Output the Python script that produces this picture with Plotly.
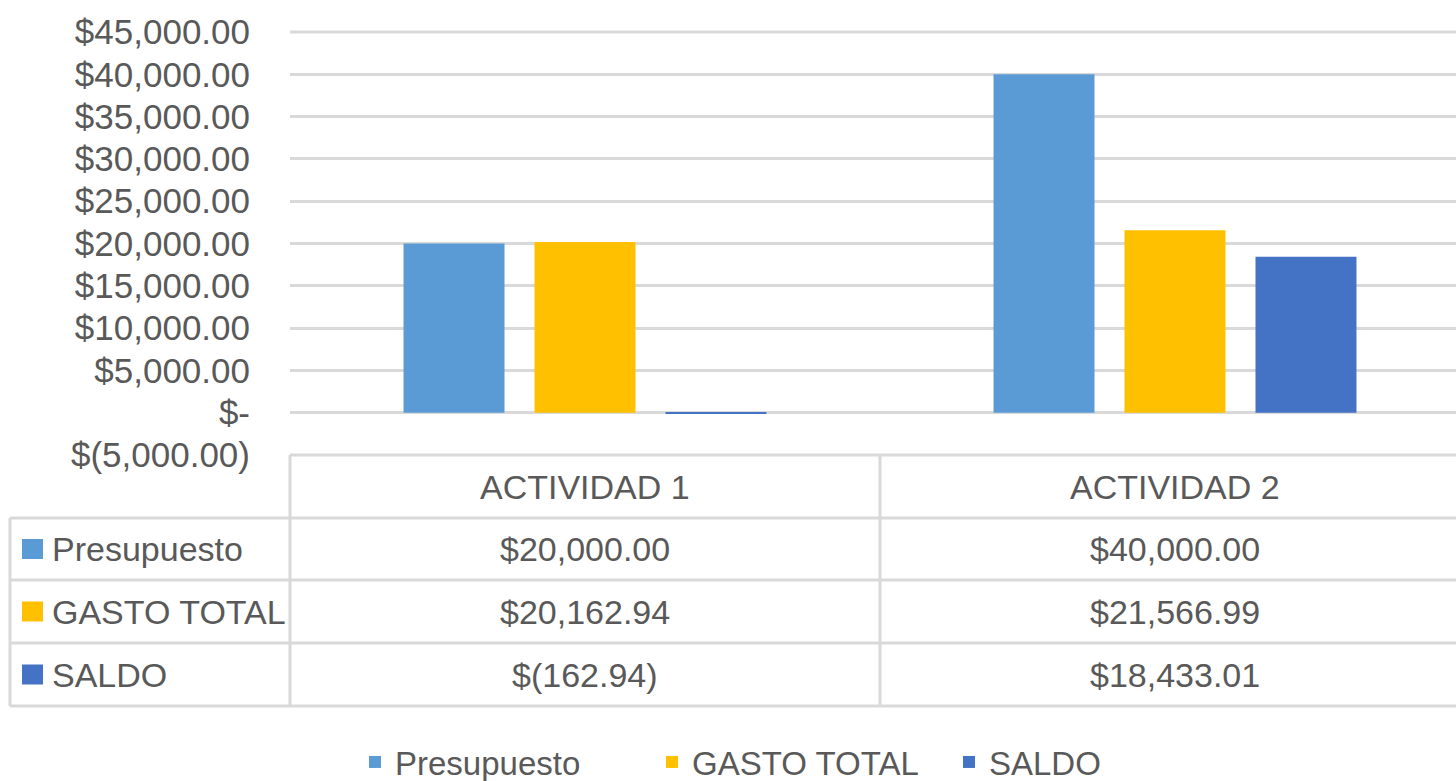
import plotly.graph_objects as go

# ---- data ----
categories = ["ACTIVIDAD 1", "ACTIVIDAD 2"]
series_names = ["Presupuesto", "GASTO TOTAL", "SALDO"]
presupuesto = [20000.00, 40000.00]
gasto_total = [20162.94, 21566.99]
saldo = [-162.94, 18433.01]
colors = ["#5B9BD5", "#FFC000", "#4472C4"]
y_tickvals = [-5000, 0, 5000, 10000, 15000, 20000, 25000, 30000, 35000, 40000, 45000]


def fmt_money(v):
    if v == 0:
        return "$-"
    if v < 0:
        return "$({:,.2f})".format(-v)
    return "${:,.2f}".format(v)


series_values = [presupuesto, gasto_total, saldo]

W, H = 1456, 781
L, R, T, B = 290, 1456, 32, 455  # plot area in pixels
FONT = "Liberation Sans"
TXT = "#595959"
GRID = "#d9d9d9"
GW = 3


def px_x(px):
    return (px - L) / (R - L)


def px_y(py):
    return (B - py) / (B - T)


fig = go.Figure()
for name, vals, col in zip(series_names, series_values, colors):
    fig.add_trace(go.Bar(x=categories, y=vals, name=name, marker_color=col,
                         marker_line_width=0))

fig.update_layout(
    width=W, height=H,
    margin=dict(l=L, r=W - R, t=T, b=H - B, pad=0, autoexpand=False),
    paper_bgcolor="white", plot_bgcolor="white",
    barmode="group", bargap=0.334, bargroupgap=0.229,
    font=dict(family=FONT, size=34, color=TXT),
    showlegend=True,
    legend=dict(orientation="h", x=px_x(355), xanchor="left",
                y=px_y(762), yanchor="middle",
                font=dict(family=FONT, size=33, color=TXT),
                itemwidth=30, tracegroupgap=0, entrywidth=252),
)
fig.update_xaxes(showticklabels=False, showgrid=False, zeroline=False,
                 showline=False, automargin=False,
                 range=[-0.5, 1.5 - (1470 - R) / 590])
fig.update_yaxes(range=[-5000, 45000], tickvals=y_tickvals,
                 ticktext=[fmt_money(v) for v in y_tickvals],
                 showgrid=True, gridcolor=GRID, gridwidth=GW,
                 zeroline=True, zerolinecolor=GRID, zerolinewidth=GW,
                 ticks="outside", ticklen=32, tickcolor="rgba(0,0,0,0)",
                 tickfont=dict(family=FONT, size=35, color=TXT),
                 showline=False, automargin=False)

# top gridline (at the edge of the axis range)
fig.add_shape(type="line", xref="paper", yref="paper", x0=0, x1=1,
              y0=1, y1=1, line=dict(color=GRID, width=GW), layer="below")

# ---- data table below the chart ----
line = dict(color=GRID, width=GW)
row_bounds = [455, 518, 580, 643, 706]
fig.add_shape(type="line", xref="paper", yref="paper", x0=0, x1=1,
              y0=px_y(455), y1=px_y(455), line=line)
for yb in row_bounds[1:]:
    fig.add_shape(type="line", xref="paper", yref="paper", x0=px_x(10), x1=1,
                  y0=px_y(yb), y1=px_y(yb), line=line)
fig.add_shape(type="line", xref="paper", yref="paper", x0=px_x(10), x1=px_x(10),
              y0=px_y(518), y1=px_y(706), line=line)
fig.add_shape(type="line", xref="paper", yref="paper", x0=0, x1=0,
              y0=px_y(455), y1=px_y(706), line=line)
fig.add_shape(type="line", xref="x", yref="paper", x0=0.5, x1=0.5,
              y0=px_y(455), y1=px_y(706), line=line)

for c in categories:
    fig.add_annotation(x=c, xref="x", y=px_y((455 + 518) / 2), yref="paper",
                       text=c, showarrow=False, xanchor="center", yanchor="middle",
                       font=dict(family=FONT, size=34, color=TXT))

for i, (name, vals, col) in enumerate(zip(series_names, series_values, colors)):
    top, bot = row_bounds[i + 1], row_bounds[i + 2]
    mid = (top + bot) / 2
    fig.add_shape(type="rect", xref="paper", yref="paper",
                  x0=px_x(22), x1=px_x(43), y0=px_y(mid - 10), y1=px_y(mid + 10),
                  fillcolor=col, line_width=0)
    fig.add_annotation(x=px_x(50), xref="paper", y=px_y(mid), yref="paper",
                       text=name, showarrow=False, xanchor="left", yanchor="middle",
                       font=dict(family=FONT, size=34, color=TXT))
    for c, v in zip(categories, vals):
        fig.add_annotation(x=c, xref="x", y=px_y(mid), yref="paper",
                           text=fmt_money(v), showarrow=False,
                           xanchor="center", yanchor="middle",
                           font=dict(family=FONT, size=34, color=TXT))

fig.write_html("out.html", config={"displayModeBar": False},
               post_script="document.body.style.margin='0';document.body.style.overflow='hidden';")
